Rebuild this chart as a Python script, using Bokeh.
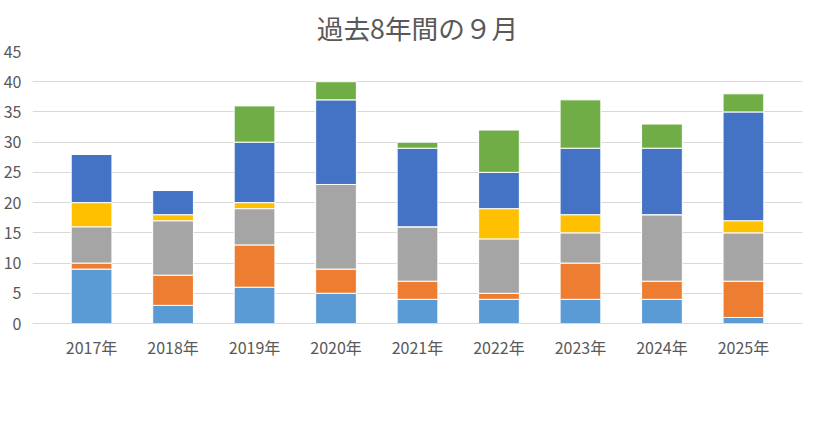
from bokeh.plotting import figure
from bokeh.models import ColumnDataSource, Legend, FixedTicker
from bokeh.embed import file_html
from bokeh.resources import INLINE

years = ["2017年", "2018年", "2019年", "2020年", "2021年", "2022年", "2023年", "2024年", "2025年"]
fall = [9, 3, 6, 5, 4, 4, 4, 4, 1]
tumble = [1, 5, 7, 4, 3, 1, 6, 3, 6]
collide = [6, 9, 6, 14, 9, 9, 5, 11, 8]
flying = [4, 1, 1, 0, 0, 5, 3, 0, 2]
traffic = [8, 4, 10, 14, 13, 6, 11, 11, 18]
other = [0, 0, 6, 3, 1, 7, 8, 4, 3]

names = ["墜落･転落", "転倒", "激突・挟まれ", "飛来・落下", "交通事故", "その他"]
keys = ["fall", "tumble", "collide", "flying", "traffic", "other"]
colors = ["#5B9BD5", "#ED7D31", "#A5A5A5", "#FFC000", "#4472C4", "#70AD47"]

source = ColumnDataSource(data=dict(years=years, fall=fall, tumble=tumble, collide=collide,
                                    flying=flying, traffic=traffic, other=other))

font = "Noto Sans CJK JP"
p = figure(x_range=years, y_range=(0, 45), frame_width=770, frame_height=272,
           output_backend="svg", toolbar_location=None,
           title="過去8年間の９月", min_border_left=10, min_border_right=10,
           min_border_top=10, min_border_bottom=5)
p.title.align = "center"
p.title.text_font = font
p.title.text_font_size = "20pt"
p.title.text_font_style = "normal"
p.title.text_color = "#595959"

r = p.vbar_stack(keys, x="years", width=0.5, source=source, color=colors,
                 line_color="white", line_width=1)

legend = Legend(items=[(n, [g]) for n, g in zip(names, r)], orientation="horizontal",
                location=(215, 0), border_line_color=None, label_text_font=font,
                label_text_font_size="12pt", label_text_color="#595959",
                glyph_width=12, glyph_height=12, spacing=22, padding=4)
p.add_layout(legend, "below")

p.yaxis.ticker = FixedTicker(ticks=list(range(0, 46, 5)))
p.yaxis.axis_line_color = None
p.yaxis.major_tick_line_color = None
p.yaxis.minor_tick_line_color = None
p.xaxis.major_tick_line_color = None
p.xaxis.axis_line_color = "#D9D9D9"
for ax in (p.xaxis, p.yaxis):
    ax.major_label_text_font = font
    ax.major_label_text_font_size = "12pt"
    ax.major_label_text_color = "#595959"
p.xgrid.grid_line_color = None
p.ygrid.grid_line_color = "#D9D9D9"
p.outline_line_color = None
p.x_range.range_padding = 0.05

open("out.html", "w").write(file_html(p, INLINE))
